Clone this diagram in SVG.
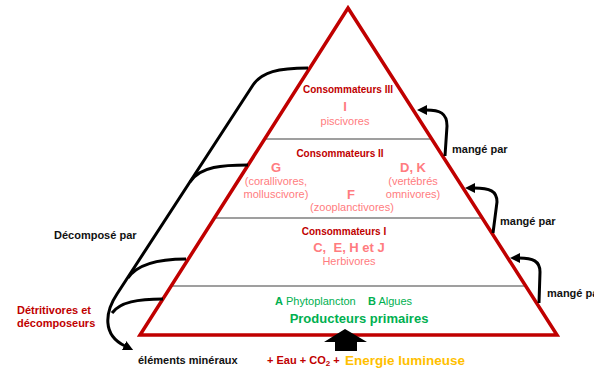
<svg xmlns="http://www.w3.org/2000/svg" width="594" height="370" viewBox="0 0 594 370">
<style>
text{font-family:"Liberation Sans",Arial,sans-serif;}
.b{font-weight:bold;}
.head{font-size:10px;font-weight:bold;fill:#c00000;}
.pk{fill:#ff7c80;font-size:11px;}
.pkb{fill:#ff7c80;font-size:13px;font-weight:bold;}
.gr{fill:#00b050;}
.lab{font-size:11px;font-weight:bold;fill:#111;}
.red{fill:#c00000;}
.tier{stroke:#404040;stroke-width:1.2;}
.con{fill:none;stroke:#000;stroke-width:3;}
</style>
<defs>
<marker id="ah" markerUnits="userSpaceOnUse" markerWidth="11" markerHeight="10" refX="1" refY="5" orient="auto">
<path d="M0,0 L10,5 L0,10 z" fill="#000"/>
</marker>
</defs>
<rect width="594" height="370" fill="#fff"/>

<g id="tiers">
<line class="tier" x1="265" y1="139" x2="431" y2="139"/>
<line class="tier" x1="215" y1="218" x2="482" y2="218"/>
<line class="tier" x1="171" y1="286" x2="526" y2="286"/>
</g>

<g id="pyramid">
<polygon points="348,8 557,335 140,335" fill="none" stroke="#c00000" stroke-width="3.5" stroke-linejoin="miter"/>
</g>

<g id="consommateurs3">
<text class="head" x="348" y="93" text-anchor="middle">Consommateurs III</text>
<text class="pkb" x="345" y="111" text-anchor="middle">I</text>
<text class="pk" x="345" y="125" text-anchor="middle">piscivores</text>
</g>

<g id="consommateurs2">
<text class="head" x="340" y="157" text-anchor="middle">Consommateurs II</text>
<text class="pkb" x="276" y="172" text-anchor="middle">G</text>
<text class="pk" x="276" y="185" text-anchor="middle">(corallivores,</text>
<text class="pk" x="276" y="198" text-anchor="middle">molluscivore)</text>
<text class="pkb" x="413" y="172" text-anchor="middle">D, K</text>
<text class="pk" x="413" y="185" text-anchor="middle">(vertébrés</text>
<text class="pk" x="413" y="198" text-anchor="middle">omnivores)</text>
<text class="pkb" x="351" y="199" text-anchor="middle">F</text>
<text class="pk" x="352" y="211" text-anchor="middle">(zooplanctivores)</text>
</g>

<g id="consommateurs1">
<text class="head" x="344" y="235" text-anchor="middle">Consommateurs I</text>
<text class="pkb" x="349" y="252" text-anchor="middle" style="white-space:pre">C,  E, H et J</text>
<text class="pk" x="349" y="265" text-anchor="middle">Herbivores</text>
</g>

<g id="producteurs">
<text class="gr" x="275" y="305" font-size="11"><tspan class="b">A</tspan> Phytoplancton</text>
<text class="gr" x="368" y="305" font-size="11"><tspan class="b">B</tspan> Algues</text>
<text class="gr b" x="359" y="323" font-size="13" text-anchor="middle">Producteurs primaires</text>
</g>

<g id="connectors">
<path class="con" d="M308,68 C278,68 262,72 253,85 L117,294 C105,312 102,335 125,346" marker-end="url(#ah)"/>
<path class="con" d="M248,165 C224,165 200,166 190,182"/>
<path class="con" d="M186,259 C160,259 138,263 128,278"/>
<path class="con" d="M163,299 C138,299 120,302 112,313"/>
<path class="con" d="M445,156 L447,126 C447,113 440,110 426,110" marker-end="url(#ah)"/>
<path class="con" d="M493,233 L497,202 C497,191 490,188 474,188" marker-end="url(#ah)"/>
<path class="con" d="M539,303 L540,272 C540,261 533,258 519,258" marker-end="url(#ah)"/>
<path d="M345,329 L367,342 L357,342 L357,351 L335,351 L335,342 L324,342 z" fill="#000"/>
</g>

<g id="labels">
<text class="lab" x="452" y="153">mangé par</text>
<text class="lab" x="500" y="225">mangé par</text>
<text class="lab" x="547" y="297">mangé par</text>
<text class="lab" x="54" y="239">Décomposé par</text>
<text class="lab red" x="17" y="314">Détritivores et</text>
<text class="lab red" x="17" y="327">décomposeurs</text>
<text class="lab" x="138" y="364">éléments minéraux</text>
<text class="lab red" x="267" y="364">+ Eau + CO<tspan font-size="8" dy="2">2</tspan><tspan dy="-2"> +</tspan></text>
<text class="b" x="345" y="365" font-size="13.5" fill="#ffc000">Energie lumineuse</text>
</g>
</svg>
